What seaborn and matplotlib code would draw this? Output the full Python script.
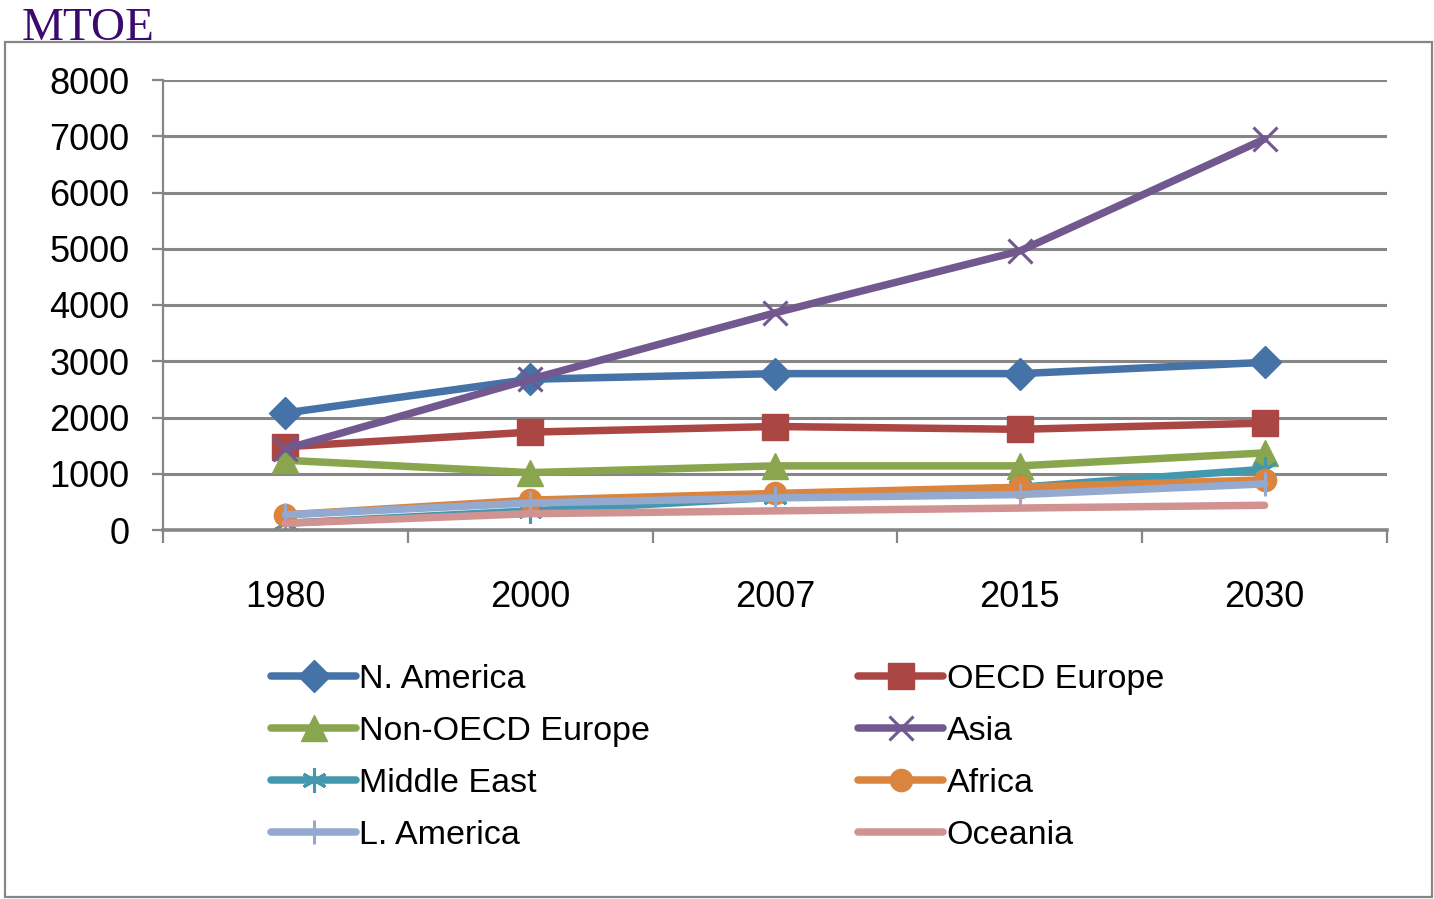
import matplotlib
matplotlib.use("Agg")
import matplotlib.pyplot as plt
from matplotlib.patches import Rectangle
import seaborn as sns
import pandas as pd

# Energy demand by region (million tonnes of oil equivalent)
years = ["1980", "2000", "2007", "2015", "2030"]
n_america = [2080, 2680, 2780, 2780, 2980]
oecd_europe = [1480, 1740, 1840, 1790, 1900]
non_oecd_europe = [1240, 1020, 1140, 1140, 1370]
asia = [1440, 2680, 3860, 4960, 6950]
middle_east = [120, 340, 580, 760, 1080]
africa = [270, 530, 650, 760, 890]
l_america = [270, 480, 570, 630, 820]
oceania = [120, 290, 340, 390, 440]

y_ticks = [0, 1000, 2000, 3000, 4000, 5000, 6000, 7000, 8000]

series = [
    ("N. America", n_america, "#4572A7", "D", 16, 1),
    ("OECD Europe", oecd_europe, "#AA4643", "s", 19, 1),
    ("Non-OECD Europe", non_oecd_europe, "#89A54E", "^", 19, 1),
    ("Asia", asia, "#71588F", "x", 17, 2.2),
    ("Middle East", middle_east, "#4198AF", (6, 2, 0), 18, 2.2),
    ("Africa", africa, "#DB843D", "o", 16, 1),
    ("L. America", l_america, "#93A9CF", "|", 17, 2.2),
    ("Oceania", oceania, "#D19392", None, 0, 1),
]

sns.set_theme(style="white")
plt.rcParams["font.family"] = ["Liberation Sans", "DejaVu Sans"]
plt.rcParams["text.color"] = "black"
plt.rcParams["xtick.labelcolor"] = "black"
plt.rcParams["ytick.labelcolor"] = "black"

fig = plt.figure(figsize=(14.34, 8.99), dpi=100)
ax = fig.add_axes([163 / 1434, 1 - 530 / 899, (1387 - 163) / 1434, 450 / 899])

grid_col = "#868686"
for yt in y_ticks[1:]:
    ax.axhline(yt, color=grid_col, lw=2.2, zorder=0)

xpos = list(range(len(years)))
for name, vals, col, mk, ms, mew in series:
    df = pd.DataFrame({"x": xpos, "y": vals})
    kw = dict(marker=mk, markersize=ms, markeredgewidth=mew,
              markerfacecolor=col, markeredgecolor=col) if mk is not None else {}
    sns.lineplot(data=df, x="x", y="y", ax=ax, color=col, lw=5.4,
                 label=name, solid_capstyle="round", solid_joinstyle="round",
                 **kw)

ax.set_xlim(-0.5, 4.5)
ax.set_ylim(0, 8000)
ax.set_yticks(y_ticks)
ax.set_yticklabels([str(v) for v in y_ticks])
ax.set_xticks(xpos)
ax.set_xticklabels(years)
ax.set_xticks([i - 0.5 for i in range(6)], minor=True)
ax.set_xlabel("")
ax.set_ylabel("")

for side in ("top", "right"):
    ax.spines[side].set_visible(False)
ax.spines["left"].set_color(grid_col)
ax.spines["left"].set_linewidth(1.6)
ax.spines["bottom"].set_color(grid_col)
ax.spines["bottom"].set_linewidth(2.6)

ax.tick_params(axis="y", which="major", direction="out", length=8, width=1.6,
               color=grid_col, pad=16, labelsize=26, left=True)
ax.tick_params(axis="x", which="major", length=0, pad=36, labelsize=26,
               bottom=True)
ax.tick_params(axis="x", which="minor", direction="out", length=9, width=1.6,
               color=grid_col, bottom=True)

ax.get_legend().remove()
handles, labels = ax.get_legend_handles_labels()
order = [0, 2, 4, 6, 1, 3, 5, 7]
fig.legend([handles[i] for i in order], [labels[i] for i in order],
           ncol=2, loc="upper left", bbox_to_anchor=(254 / 1434, 1 - 647 / 899),
           frameon=False, fontsize=24.5, handlelength=2.5, handletextpad=0.1,
           columnspacing=6.1, labelspacing=0.62, borderpad=0)

fig.patches.append(Rectangle((5 / 1434, 1 - 897 / 899), 1427 / 1434, 855 / 899,
                             transform=fig.transFigure, fill=False,
                             edgecolor=grid_col, lw=1.6))
fig.text(22 / 1434, 1 - 40 / 899, "MTOE", fontsize=34, color="#3B0A6E",
         family=["Liberation Serif", "DejaVu Serif"], ha="left", va="baseline")

fig.savefig("out.png", dpi=100)
